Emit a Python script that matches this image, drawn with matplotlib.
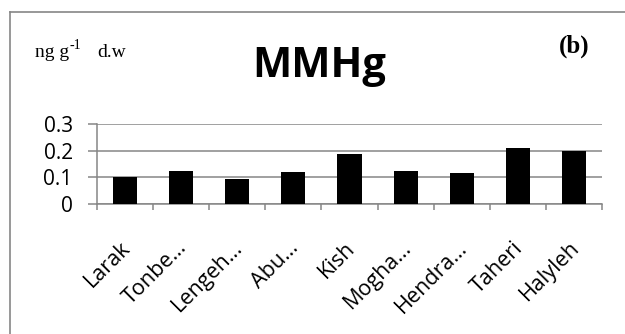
import matplotlib.pyplot as plt
from matplotlib.lines import Line2D
from matplotlib.transforms import ScaledTranslation

sites = ["Larak", "Tonbe…", "Lengeh…", "Abu…", "Kish", "Mogha…", "Hendra…", "Taheri", "Halyleh"]
mmhg = [0.102, 0.122, 0.095, 0.120, 0.189, 0.125, 0.117, 0.210, 0.199]
yticks = [0, 0.1, 0.2, 0.3]
ytick_labels = ["0", "0.1", "0.2", "0.3"]

W, H = 625, 334
fig = plt.figure(figsize=(W / 100, H / 100), dpi=100)

grey = "#868686"

# chart frame (only left and top edges fall inside the image)
fig.add_artist(Line2D([10 / W, 10 / W], [0, 1 - 12 / H], color=grey, lw=1.2))
fig.add_artist(Line2D([10 / W, 1], [1 - 12 / H, 1 - 12 / H], color=grey, lw=1.2))

ax = fig.add_axes([97 / W, 1 - 204 / H, (602 - 97) / W, (204 - 124) / H])

x = list(range(len(sites)))
ax.bar(x, mmhg, width=0.43, color="black", zorder=3)

ax.set_xlim(-0.5, len(sites) - 0.5)
ax.set_ylim(0, 0.3)

ax.set_yticks(yticks)
ax.set_yticklabels(ytick_labels, fontfamily="Open Sans", fontsize=15)
ax.yaxis.grid(True, color=grey, lw=1.1, zorder=0)
ax.tick_params(axis="y", length=6.5, width=1.1, color=grey, pad=11)

ax.set_xticks([i - 0.5 for i in range(len(sites) + 1)], minor=True)
ax.set_xticks(x)
ax.set_xticklabels(sites, rotation=45, ha="right", va="top", rotation_mode="anchor",
                   fontfamily="Open Sans", fontsize=15.5)
ax.tick_params(axis="x", which="major", length=0, pad=24)
ax.tick_params(axis="x", which="minor", length=4, width=1.1, color=grey)
shift = ScaledTranslation(-5 / 100, 0, fig.dpi_scale_trans)
for lab in ax.get_xticklabels():
    lab.set_transform(lab.get_transform() + shift)

for s in ["top", "right"]:
    ax.spines[s].set_visible(False)
for s in ["left", "bottom"]:
    ax.spines[s].set_color(grey)
    ax.spines[s].set_linewidth(1.1)

# unit label with a hand-placed superscript
fig.text(35 / W, 1 - 57 / H, "ng g", fontfamily="Liberation Serif",
         fontsize=14, ha="left", va="baseline")
fig.text(70 / W, 1 - 49 / H, "-1", fontfamily="Liberation Serif",
         fontsize=10, ha="left", va="baseline")
fig.text(97 / W, 1 - 57 / H, "d.w", fontfamily="Liberation Serif",
         fontsize=14, ha="left", va="baseline")

fig.text(319 / W, 1 - 77 / H, "MMHg", fontfamily="Open Sans", fontweight="bold",
         fontsize=30, ha="center", va="baseline")
fig.text(589 / W, 1 - 53 / H, "(b)", fontfamily="Liberation Serif", fontweight="bold",
         fontsize=18, ha="right", va="baseline")

fig.savefig("out.png", dpi=100)
